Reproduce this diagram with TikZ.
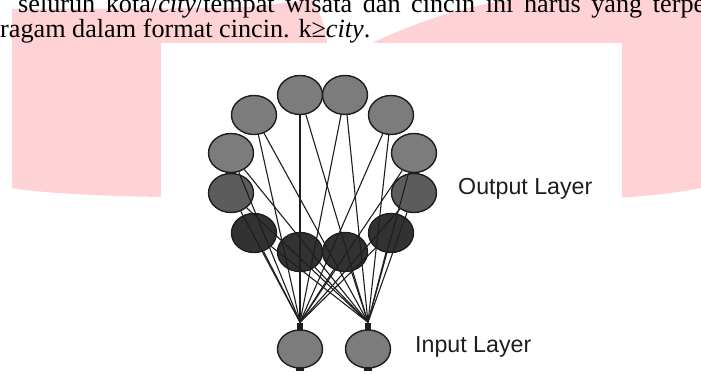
\documentclass[tikz,border=0pt]{standalone}
\usepackage{fontspec}
\setmainfont{Liberation Serif}
\newfontfamily\labelfont{Liberation Sans}
\usetikzlibrary{shapes.geometric}
\definecolor{wmpink}{RGB}{255,211,214}
\definecolor{nlight}{RGB}{124,124,124}
\definecolor{nmid}{RGB}{92,92,92}
\definecolor{ndark}{RGB}{50,50,50}
\definecolor{edgec}{RGB}{30,30,30}
\begin{document}
\begin{tikzpicture}[x=1pt,y=-1pt,
  neuron/.style={ellipse, draw=edgec, line width=1.4pt, minimum width=45pt, minimum height=39pt, inner sep=0pt},
  light/.style={neuron, fill=nlight},
  midn/.style={neuron, fill=nmid},
  darkn/.style={neuron, fill=ndark},
  link/.style={draw=edgec, line width=1.1pt},
  body/.style={font=\fontsize{26.2}{30}\selectfont, inner sep=0pt, anchor=base west},
  lab/.style={font=\labelfont\fontsize{23.2}{28}\selectfont, text=edgec, inner sep=0pt, anchor=base west},
  port/.style={fill=edgec, inner sep=0pt, minimum width=6pt, minimum height=7pt}
]
\useasboundingbox (0,0) rectangle (701,382);
\clip (0,0) rectangle (701,382);
% watermark lobes
\fill[wmpink] (12,9) -- (230,8) .. controls (265,6) and (290,2) .. (305,0) -- (312,0) .. controls (322,15) and (326,30) .. (327,43) -- (327,200) -- (161,197) .. controls (100,196) and (40,193) .. (12,188) -- cycle;
\fill[wmpink] (372,43) .. controls (400,30) and (450,8) .. (510,0) -- (701,0) -- (701,188) .. controls (670,194) and (640,197) .. (610,198) -- (372,198) -- cycle;
% body text
\node[body] (l1) at (18,12.5) {\makebox[687pt][s]{seluruh kota/\textit{city}/tempat wisata dan cincin ini harus yang terpe}};
\node[body] (l2) at (0,37.5) {ragam dalam format cincin. k≥\textit{city}.};
% figure background
\fill[white] (161,43) rectangle (622,382);
% neurons
\node[light] (t1) at (300,95) {};
\node[light] (t2) at (345,95) {};
\node[light] (a1) at (254,115) {};
\node[light] (a2) at (391,115) {};
\node[light] (b1) at (231,153) {};
\node[light] (b2) at (414,153) {};
\node[midn] (c1) at (231,193) {};
\node[midn] (c2) at (414,193) {};
\node[darkn] (d1) at (254,233) {};
\node[darkn] (d2) at (391,233) {};
\node[darkn] (e1) at (300,252) {};
\node[darkn] (e2) at (345,252) {};
\node[light, minimum height=38pt] (i1) at (300,349) {};
\node[light, minimum height=38pt] (i2) at (368,349) {};
\node[port] (p1) at (300,326) {};
\node[port] (p2) at (368,326) {};
\foreach \n in {t1,t2,a1,a2,b1,b2,c1,c2,d1,d2,e1,e2} {
  \draw[link] (\n) -- (p1.north);
  \draw[link] (\n) -- (p2.north);
}
\node[port, minimum width=8pt, minimum height=4pt] (q1) at (300,369) {};
\node[port, minimum width=8pt, minimum height=4pt] (q2) at (368,369) {};
% labels
\node[lab] (ol) at (458,195) {Output Layer};
\node[lab] (il) at (415,352) {Input Layer};
\end{tikzpicture}
\end{document}
